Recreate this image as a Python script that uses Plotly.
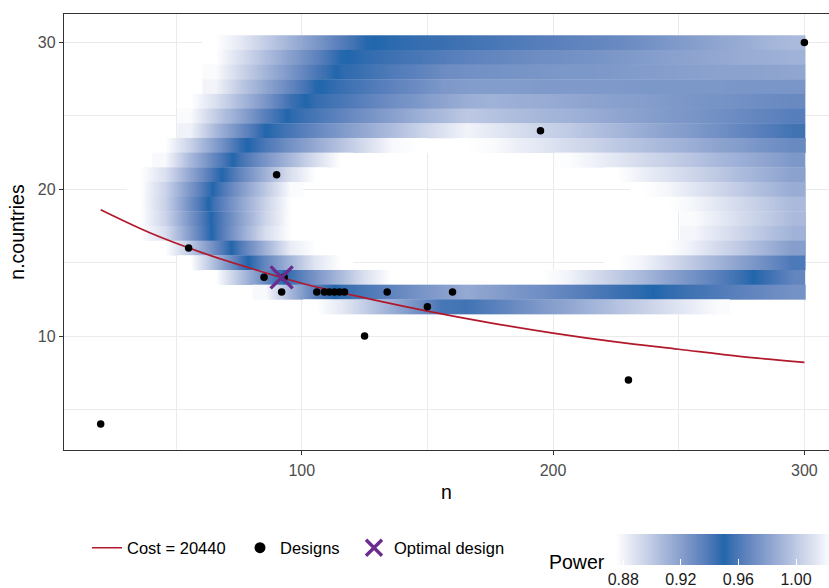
import plotly.graph_objects as go

# ---------------- data ----------------
# tile centres along n (step 10) and the n.countries rows
n_grid = [25.5, 35.5, 45.5, 55.5, 65.5, 75.5, 85.5, 95.5, 105.5, 115.5,
          125.5, 135.5, 145.5, 155.5, 165.5, 175.5, 185.5, 195.5, 205.5, 215.5,
          225.5, 235.5, 245.5, 255.5, 265.5, 275.5, 285.5, 295.5]
n_countries = [30, 29, 28, 27, 26, 25, 24, 23, 22, 21, 20, 19, 18, 17, 16, 15, 14, 13, 12]

N = None
power_grid = [
    [N, N, N, N, .875, .885, .898, .911, .924, .937, .949, .952, .954, .955, .957, .959, .961, .963, .965, .967, .969, .972, .976, .979, .983, .986, .990, .993],  # 30
    [N, N, N, N, .875, .890, .905, .920, .934, .949, .953, .956, .959, .962, .965, .967, .969, .971, .972, .974, .976, .978, .980, .982, .984, .986, .987, .989],  # 29
    [N, N, N, N, .877, .894, .910, .925, .940, .952, .956, .961, .965, .970, .972, .973, .974, .975, .976, .976, .977, .978, .979, .980, .981, .981, .982, .983],  # 28
    [N, N, N, N, .880, .900, .917, .933, .949, .955, .960, .965, .970, .976, .978, .978, .978, .977, .977, .977, .977, .976, .976, .976, .976, .975, .975, .975],  # 27
    [N, N, N, .875, .889, .907, .925, .944, .954, .959, .965, .971, .976, .982, .987, .989, .987, .986, .984, .982, .980, .979, .977, .975, .974, .972, .970, .969],  # 26
    [N, N, N, .877, .898, .917, .937, .952, .959, .966, .973, .980, .987, .993, 1.00, .997, .994, .991, .989, .986, .983, .980, .977, .975, .972, .969, .966, .963],  # 25
    [N, N, N, .881, .908, .930, .950, .959, .968, .977, .985, .994, 1.003, 1.012, 1.020, 1.015, 1.010, 1.005, 1.001, .996, .991, .986, .981, .977, .972, .967, .962, .957],  # 24
    [N, N, .875, .896, .921, .946, .960, .973, .985, .997, 1.010, 1.022, 1.025, N, 1.025, 1.023, 1.018, 1.014, 1.009, 1.005, 1.000, .996, .991, .987, .982, .978, .973, .969],  # 23
    [N, N, .878, .908, .934, .957, .975, .992, 1.010, 1.025, N, N, N, N, N, N, N, N, 1.024, 1.019, 1.014, 1.008, 1.003, .998, .992, .987, .982, .976],  # 22
    [N, .875, .889, .917, .944, .967, .989, 1.011, 1.025, N, N, N, N, N, N, N, N, N, N, N, 1.025, 1.018, 1.012, 1.006, 1.000, .993, .987, .981],  # 21
    [N, .875, .895, .925, .953, .977, 1.000, 1.023, N, N, N, N, N, N, N, N, N, N, N, N, N, 1.025, 1.021, 1.014, 1.007, 1.000, .993, .986],  # 20
    [N, .875, .896, .929, .958, .982, 1.005, 1.025, N, N, N, N, N, N, N, N, N, N, N, N, N, N, 1.025, 1.021, 1.014, 1.007, 1.000, .993],  # 19
    [N, .875, .895, .926, .955, .981, 1.006, 1.025, N, N, N, N, N, N, N, N, N, N, N, N, N, N, N, 1.023, 1.016, 1.008, 1.001, .993],  # 18
    [N, .875, .890, .923, .955, .983, 1.010, 1.025, N, N, N, N, N, N, N, N, N, N, N, N, N, N, N, 1.021, 1.013, 1.005, .997, .989],  # 17
    [N, N, .875, .900, .931, .961, .989, 1.017, 1.025, N, N, N, N, N, N, N, N, N, N, N, N, N, 1.025, 1.018, 1.008, .999, .989, .979],  # 16
    [N, N, N, .875, .908, .942, .968, .991, 1.014, 1.025, N, N, N, N, N, N, N, N, N, N, 1.025, 1.020, 1.010, 1.000, .990, .980, .970, .960],  # 15
    [N, N, N, N, .875, .904, .932, .956, .975, .993, 1.012, 1.025, N, N, N, N, N, 1.025, 1.020, 1.010, 1.001, .992, .982, .973, .964, .954, .944, .933],  # 14
    [N, N, N, N, N, N, .878, .909, .937, .954, .960, .966, .973, .979, .985, .980, .975, .971, .966, .961, .956, .952, .947, .943, .939, .935, .931, .927],  # 13
    [N, N, N, N, N, N, N, N, .875, .885, .899, .913, .927, .941, .943, .937, .930, .923, .917, .910, .903, .897, .890, .883, .877, N, N, N],  # 12
]

# cost curve (Cost = 20440)
cost_n = [20, 40, 60, 80, 100, 125, 150, 175, 200, 225, 250, 275, 300]
cost_nc = [18.6, 17.0, 15.7, 14.6, 13.6, 12.6, 11.7, 10.9, 10.2, 9.6, 9.1, 8.6, 8.2]

# evaluated designs
design_n = [20, 55, 85, 93, 92, 90, 106, 109, 111, 113, 115, 117, 125, 134, 150, 160, 195, 230, 300]
design_nc = [4, 16, 14, 14, 13, 21, 13, 13, 13, 13, 13, 13, 10, 13, 12, 13, 24, 7, 30]

# optimal design
optimal_n = [92]
optimal_nc = [14]

power_ticks = [0.88, 0.92, 0.96, 1.00]
power_limits = [0.875, 1.025]


# ---------------- colour scale: white -> blue -> white in Lab ----------------
def _lin(c):
    c = c / 255.0
    return c / 12.92 if c <= 0.04045 else ((c + 0.055) / 1.055) ** 2.4


def hex2lab(h):
    r, g, b = [int(h[i:i + 2], 16) for i in (1, 3, 5)]
    R, G, B = _lin(r), _lin(g), _lin(b)
    X = 0.4124 * R + 0.3576 * G + 0.1805 * B
    Y = 0.2126 * R + 0.7152 * G + 0.0722 * B
    Z = 0.0193 * R + 0.1192 * G + 0.9505 * B

    def f(t):
        return t ** (1 / 3) if t > 216 / 24389 else (24389 / 27 * t + 16) / 116

    fx, fy, fz = f(X / 0.95047), f(Y / 1.0), f(Z / 1.08883)
    return (116 * fy - 16, 500 * (fx - fy), 200 * (fy - fz))


def lab2rgb(L, a, b):
    fy = (L + 16) / 116
    fx = fy + a / 500
    fz = fy - b / 200

    def finv(t):
        return t ** 3 if t ** 3 > 216 / 24389 else (116 * t - 16) / (24389 / 27)

    X, Y, Z = finv(fx) * 0.95047, finv(fy), finv(fz) * 1.08883
    R = 3.2406 * X - 1.5372 * Y - 0.4986 * Z
    G = -0.9689 * X + 1.8758 * Y + 0.0415 * Z
    B = 0.0557 * X - 0.2040 * Y + 1.0570 * Z

    def g(c):
        c = max(0.0, min(1.0, c))
        return 12.92 * c if c <= 0.0031308 else 1.055 * c ** (1 / 2.4) - 0.055

    return "rgb(%d,%d,%d)" % tuple(round(255 * g(c)) for c in (R, G, B))


white_lab = hex2lab("#FFFFFF")
blue_lab = hex2lab("#2166AC")
colorscale = []
NSTOP = 40
for i in range(NSTOP + 1):
    t = i / NSTOP
    f = 1 - abs(t - 0.5) * 2
    lab = [w * (1 - f) + bb * f for w, bb in zip(white_lab, blue_lab)]
    colorscale.append([t, lab2rgb(*lab)])

# ---------------- figure ----------------
fig = go.Figure()

for nc, row in zip(n_countries, power_grid):
    runs, cur = [], []
    for k, v in enumerate(row):
        if v is None:
            if cur:
                runs.append(cur)
            cur = []
        else:
            cur.append(k)
    if cur:
        runs.append(cur)
    for run in runs:
        xs = [n_grid[k] for k in run]
        zs = [row[k] for k in run]
        fig.add_trace(go.Heatmap(
            x=xs, y=[nc - 0.25, nc + 0.25], z=[zs, zs],
            coloraxis="coloraxis", zsmooth="best",
            hoverinfo="skip", showlegend=False,
        ))

RED = "#B2182B"
PURPLE = "#6A2C8E"

fig.add_trace(go.Scatter(
    x=cost_n, y=cost_nc, mode="lines", name="Cost = 20440",
    line=dict(color=RED, width=1.7, shape="spline"), legend="legend",
))
fig.add_trace(go.Scatter(
    x=design_n, y=design_nc, mode="markers", name="Designs",
    marker=dict(color="black", size=7.5), showlegend=False,
))
fig.add_trace(go.Scatter(
    x=optimal_n, y=optimal_nc, mode="markers", name="Optimal design",
    marker=dict(symbol="x-thin", size=22, color=PURPLE,
                line=dict(width=3.4, color=PURPLE)), legend="legend3",
))
# legend key for the designs (drawn a little larger, as in the reference key)
fig.add_trace(go.Scatter(
    x=[None], y=[None], mode="markers", name="Designs",
    marker=dict(color="black", size=11), legend="legend2",
))

L, R, T, B = 64, 0, 14, 138
W, H = 829, 588
plot_w = W - L - R
plot_h = H - T - B


def px_x(px):
    return (px - L) / plot_w


def px_y(py):
    return (H - B - py) / plot_h


axis_common = dict(
    showgrid=True, gridcolor="#EBEBEB", gridwidth=1.1,
    showline=True, linecolor="#333333", linewidth=1.3,
    ticks="outside", ticklen=4, tickwidth=1.1, tickcolor="#333333",
    tickfont=dict(size=16, color="#4D4D4D"),
    zeroline=False,
)

leg_common = dict(
    orientation="h", xanchor="left", y=px_y(548), yanchor="middle",
    font=dict(size=16.5, color="black"), bgcolor="rgba(0,0,0,0)",
)

fig.update_layout(
    width=W, height=H,
    margin=dict(l=L, r=R, t=T, b=B, pad=0, autoexpand=False),
    plot_bgcolor="white", paper_bgcolor="white",
    font=dict(family="Liberation Sans, Arial, sans-serif", size=16, color="black"),
    xaxis=dict(
        range=[5.4, 309.8], tickvals=[100, 200, 300], ticktext=["100", "200", "300"],
        minor=dict(tickvals=[50, 150, 250], showgrid=True, gridcolor="#EBEBEB", gridwidth=0.6),
        mirror=True, ticklabelstandoff=2,
        title=dict(text="n", font=dict(size=19.5, color="black"), standoff=7),
        **axis_common,
    ),
    yaxis=dict(
        range=[2.23, 31.95], tickvals=[10, 20, 30], ticktext=["10", "20", "30"],
        minor=dict(tickvals=[5, 15, 25], showgrid=True, gridcolor="#EBEBEB", gridwidth=0.6),
        mirror=False,
        title=dict(text="n.countries", font=dict(size=19.5, color="black"), standoff=8),
        **axis_common,
    ),
    coloraxis=dict(
        colorscale=colorscale, cmin=power_limits[0], cmax=power_limits[1],
        colorbar=dict(
            orientation="h", thickness=31, lenmode="pixels", len=216,
            x=px_x(616), xanchor="left", xref="paper",
            y=px_y(534), yanchor="top", yref="paper",
            xpad=0, ypad=0, outlinewidth=0,
            tickvals=power_ticks, ticktext=["%.2f" % v for v in power_ticks],
            ticks="inside", ticklen=6, tickcolor="white", tickwidth=1.2,
            tickfont=dict(size=16, color="#1A1A1A"),
        ),
    ),
    legend=dict(x=px_x(87), **leg_common),
    legend2=dict(x=px_x(240), **leg_common),
    legend3=dict(x=px_x(354), **leg_common),
    annotations=[dict(
        text="Power", x=px_x(547), y=px_y(562), xref="paper", yref="paper",
        xanchor="left", yanchor="middle", showarrow=False,
        font=dict(size=19.5, color="black"),
    )],
)

fig.write_html("out.html")
